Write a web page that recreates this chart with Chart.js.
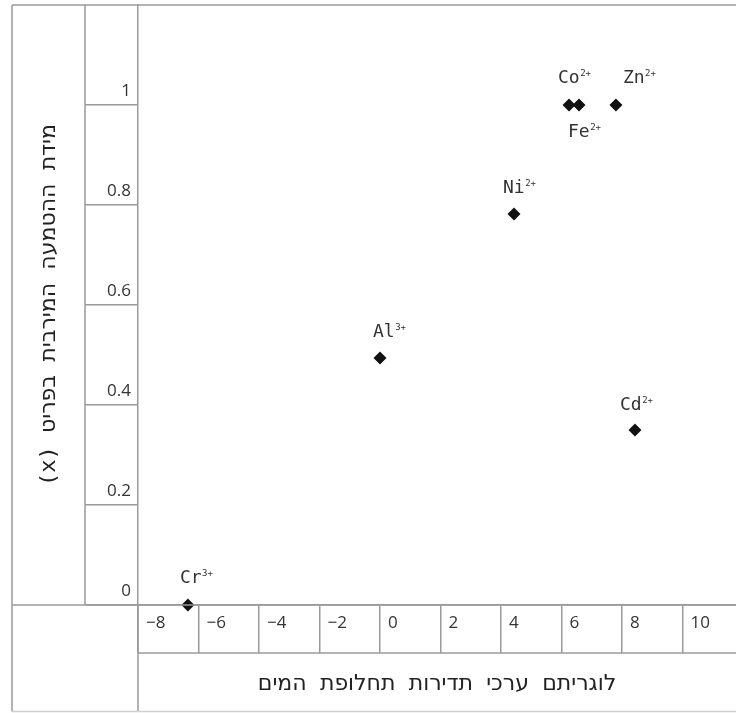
<!DOCTYPE html>
<html lang="he">
<head>
<meta charset="utf-8">
<title>Chart</title>
<script src="https://cdn.jsdelivr.net/npm/chart.js@4.4.1/dist/chart.umd.min.js"></script>
<style>
  html, body { margin: 0; padding: 0; background: #fff; }
  #wrap { width: 736px; height: 713px; }
</style>
</head>
<body>
<div id="wrap"><canvas id="myChart" width="736" height="713"></canvas></div>
<script>
'use strict';

// Data
let ions = ['Cr', 'Al', 'Ni', 'Co', 'Fe', 'Zn', 'Cd'];
let charges = ['3+', '3+', '2+', '2+', '2+', '2+', '2+'];
let logRates = [-6.35, 0, 4.43, 6.25, 6.58, 7.8, 8.43];
let maxFraction = [0, 0.494, 0.782, 1, 1, 1, 0.35];

// Tick labels
let xTicks = [-8, -6, -4, -2, 0, 2, 4, 6, 8, 10];
let yTicks = [0, 0.2, 0.4, 0.6, 0.8, 1];

// RLE ... PDF so that "(x)" ends up at the left end like in the original
let xTitle = '\u202Bלוגריתם ערכי תדירות תחלופת המים\u202C';
let yTitle = '\u202Bמידת ההטמעה המירבית בפריט (x)\u202C';

// where each label sits, relative to its point (left edge of text, middle)
let labelShift = [[-8, -27], [-7, -26], [-11, -26], [-11, -27], [-11, 27], [7, -27], [-15, -25]];

const lineColor = '#9a9a9a';
const textColor = '#333';
const monoFont = "'DejaVu Sans Mono', 'DejaVu Sans', monospace";
const tickFont = "'Open Sans', 'Noto Sans', sans-serif";

let points = [];
for (let i = 0; i < ions.length; i++) {
  points.push({ x: logRates[i], y: maxFraction[i] });
}

function fmt(v) {
  // typographic minus like in the original
  return String(v).replace('-', '\u2212');
}

// Table style frame around the axes
let framePlugin = {
  id: 'frame',
  afterDraw(chart) {
    let ctx = chart.ctx;
    let area = chart.chartArea;
    let xs = chart.scales.x;
    let ys = chart.scales.y;
    let left = ys.left;
    let right = chart.width;
    let bottom = chart.height - 1.5;
    let tickCol = area.left - ys.options.grid.tickLength;
    let tickRow = xs.top + xs.options.grid.tickLength;

    ctx.save();
    ctx.strokeStyle = lineColor;
    ctx.lineWidth = 1.5;
    ctx.beginPath();
    // top
    ctx.moveTo(left, area.top); ctx.lineTo(right, area.top);
    // left border
    ctx.moveTo(left, area.top); ctx.lineTo(left, bottom);
    // y tick column
    ctx.moveTo(tickCol, area.top); ctx.lineTo(tickCol, area.bottom);
    // under y axis
    ctx.moveTo(left, area.bottom); ctx.lineTo(right, area.bottom);
    // plot left line down to the bottom
    ctx.moveTo(area.left, area.bottom); ctx.lineTo(area.left, bottom);
    // under x tick row
    ctx.moveTo(area.left, tickRow); ctx.lineTo(right, tickRow);
    ctx.stroke();

    ctx.strokeStyle = '#d0d0d0';
    ctx.beginPath();
    ctx.moveTo(left, bottom); ctx.lineTo(right, bottom);
    ctx.stroke();
    ctx.restore();
  }
};

// Ion names with charge as superscript
let ionLabels = {
  id: 'ionLabels',
  afterDatasetsDraw(chart) {
    let ctx = chart.ctx;
    let meta = chart.getDatasetMeta(0);
    ctx.save();
    ctx.fillStyle = textColor;
    ctx.textBaseline = 'middle';
    ctx.textAlign = 'left';
    for (let i = 0; i < meta.data.length; i++) {
      let pt = meta.data[i];
      let tx = pt.x + labelShift[i][0];
      let ty = pt.y + labelShift[i][1];
      ctx.font = '18px ' + monoFont;
      ctx.fillText(ions[i], tx, ty);
      let w = ctx.measureText(ions[i]).width;
      ctx.font = '9px ' + monoFont;
      ctx.fillText(charges[i], tx + w + 0.5, ty - 4);
    }
    ctx.restore();
  }
};

let config = {
  type: 'scatter',
  data: {
    datasets: [{
      data: points,
      pointStyle: 'rectRot',
      pointRadius: 6.5,
      pointHoverRadius: 6.5,
      backgroundColor: '#111',
      borderColor: '#111',
      borderWidth: 0,
      clip: false
    }]
  },
  options: {
    responsive: false,
    animation: false,
    events: [],
    layout: { autoPadding: false, padding: { left: 12, top: 5, right: 0, bottom: 0 } },
    plugins: {
      legend: { display: false },
      tooltip: { enabled: false }
    },
    scales: {
      x: {
        type: 'linear',
        min: -8,
        max: 11.77,
        afterBuildTicks: function (scale) {
          scale.ticks = xTicks.map(v => ({ value: v }));
        },
        afterFit: function (scale) {
          scale.height = 108;
          scale.paddingLeft = 0;
          scale.paddingRight = 0;
        },
        grid: {
          drawOnChartArea: false,
          drawTicks: true,
          tickLength: 48,
          color: lineColor,
          lineWidth: 1.5
        },
        border: { display: true, color: lineColor, width: 1.5 },
        ticks: {
          align: 'start',
          labelOffset: 8,
          padding: -40,
          maxRotation: 0,
          autoSkip: false,
          color: textColor,
          font: { family: tickFont, size: 17 },
          callback: v => fmt(v)
        },
        title: {
          display: true,
          text: xTitle,
          color: '#222',
          font: { family: monoFont, size: 22 },
          padding: { top: 0, bottom: 16 }
        }
      },
      y: {
        type: 'linear',
        min: 0,
        max: 1.2,
        afterBuildTicks: function (scale) {
          scale.ticks = yTicks.map(v => ({ value: v }));
        },
        afterFit: function (scale) {
          scale.width = 126;
          scale.paddingTop = 0;
          scale.paddingBottom = 0;
        },
        grid: {
          drawOnChartArea: false,
          drawTicks: true,
          tickLength: 53,
          color: lineColor,
          lineWidth: 1.5
        },
        border: { display: true, color: lineColor, width: 1.5 },
        ticks: {
          crossAlign: 'near',
          labelOffset: -14,
          padding: -46,
          color: textColor,
          font: { family: tickFont, size: 17 },
          callback: v => fmt(v)
        },
        title: {
          display: true,
          text: yTitle,
          color: '#222',
          font: { family: monoFont, size: 22 },
          padding: { top: 24, bottom: 0 }
        }
      }
    }
  },
  plugins: [framePlugin, ionLabels]
};

const myChart = new Chart(document.getElementById('myChart'), config);
</script>
</body>
</html>
